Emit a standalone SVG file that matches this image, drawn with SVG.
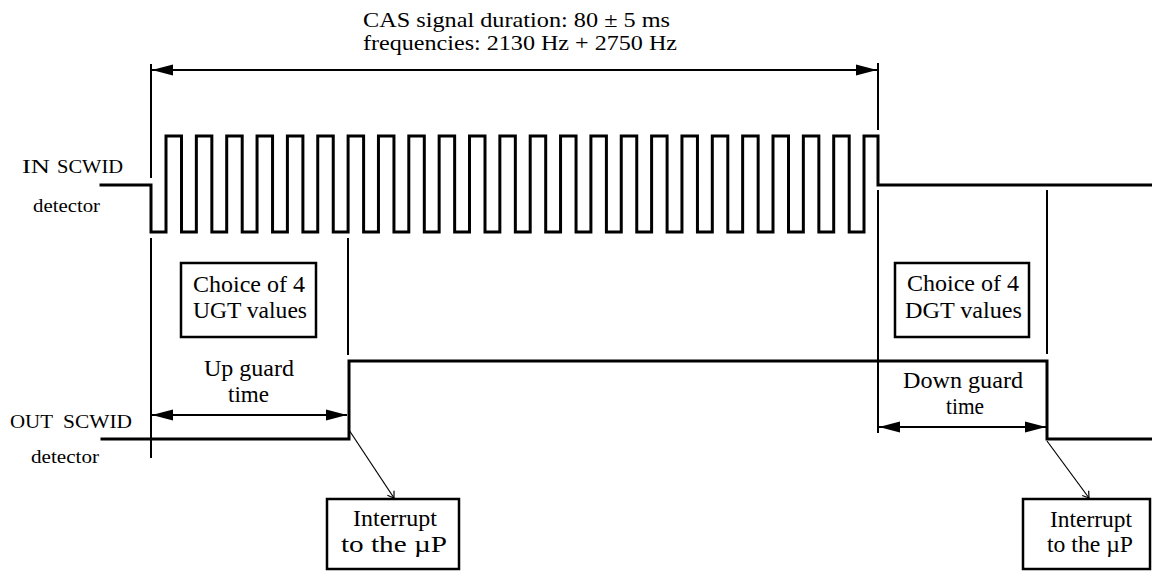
<svg xmlns="http://www.w3.org/2000/svg" width="1152" height="572" viewBox="0 0 1152 572">
<style>
text{font-family:"Liberation Serif","Times New Roman",serif;fill:#000}
.t19{font-size:19px}
.t21{font-size:21px}
.t23{font-size:24px}
.wave{fill:none;stroke:#000;stroke-width:3;stroke-linejoin:miter;stroke-linecap:square}
.ref{fill:none;stroke:#000;stroke-width:2}
.dim{fill:none;stroke:#000;stroke-width:2}
.box{fill:#fff;stroke:#000;stroke-width:2.5}
.ptr{fill:none;stroke:#000;stroke-width:1.2}
</style>
<defs>
<marker id="ah" markerWidth="22" markerHeight="12" refX="21" refY="6" orient="auto-start-reverse" markerUnits="userSpaceOnUse">
<path d="M0,0.5 L21,6 L0,11.5 Z" fill="#000"/>
</marker>
<marker id="open" markerWidth="10" markerHeight="10" refX="8" refY="5" orient="auto" markerUnits="userSpaceOnUse">
<path d="M2,1 L8,5 L2,9" fill="none" stroke="#000" stroke-width="1.2"/>
</marker>
</defs>

<g id="title">
<text class="t21" x="363" y="27" textLength="307" lengthAdjust="spacingAndGlyphs">CAS signal duration: 80 ± 5 ms</text>
<text class="t21" x="363" y="50" textLength="314" lengthAdjust="spacingAndGlyphs">frequencies: 2130 Hz + 2750 Hz</text>
</g>

<g id="in-label">
<text class="t19" x="22" y="173" textLength="28" lengthAdjust="spacingAndGlyphs">IN</text>
<text class="t19" x="57" y="173" textLength="66" lengthAdjust="spacingAndGlyphs">SCWID</text>
<text class="t19" x="33" y="212" textLength="67" lengthAdjust="spacingAndGlyphs">detector</text>
</g>
<g id="out-label">
<text class="t19" x="10" y="428" textLength="43" lengthAdjust="spacingAndGlyphs">OUT</text>
<text class="t19" x="63" y="428" textLength="69" lengthAdjust="spacingAndGlyphs">SCWID</text>
<text class="t19" x="31" y="463" textLength="68" lengthAdjust="spacingAndGlyphs">detector</text>
</g>

<g id="reference-lines">
<line class="ref" x1="151" y1="64" x2="151" y2="178"/>
<line class="ref" x1="151" y1="238" x2="151" y2="458"/>
<line class="ref" x1="348" y1="238" x2="348" y2="355"/>
<line class="ref" x1="878" y1="63" x2="878" y2="130"/>
<line class="ref" x1="878" y1="190" x2="878" y2="433"/>
<line class="ref" x1="1047" y1="190" x2="1047" y2="354"/>
</g>

<g id="in-signal">
<path class="wave" d="M101,185 H151 V232 H166 V136 H181.5 V232 H196.35 V136 H211.85 V232 H226.7 V136 H242.2 V232 H257.05 V136 H272.55 V232 H287.4 V136 H302.9 V232 H317.75 V136 H333.25 V232 H348.1 V136 H363.6 V232 H378.45 V136 H393.95 V232 H408.8 V136 H424.3 V232 H439.15 V136 H454.65 V232 H469.5 V136 H485 V232 H499.85 V136 H515.35 V232 H530.2 V136 H545.7 V232 H560.55 V136 H576.05 V232 H590.9 V136 H606.4 V232 H621.25 V136 H636.75 V232 H651.6 V136 H667.1 V232 H681.95 V136 H697.45 V232 H712.3 V136 H727.8 V232 H742.65 V136 H758.15 V232 H773 V136 H788.5 V232 H803.35 V136 H818.85 V232 H833.7 V136 H849.2 V232 H864 V136 H878 V185 H1153"/>
</g>

<g id="out-signal">
<path class="wave" d="M102,439 H349 V361 H1047 V439 H1153"/>
</g>

<g id="ugt-box">
<rect class="box" x="181" y="263" width="135" height="74"/>
<text class="t23" x="193" y="292" textLength="112" lengthAdjust="spacingAndGlyphs">Choice of 4</text>
<text class="t23" x="193" y="318" textLength="114" lengthAdjust="spacingAndGlyphs">UGT values</text>
</g>

<g id="dgt-box">
<rect class="box" x="895" y="263" width="134" height="74"/>
<text class="t23" x="907" y="291" textLength="112" lengthAdjust="spacingAndGlyphs">Choice of 4</text>
<text class="t23" x="905" y="318" textLength="117" lengthAdjust="spacingAndGlyphs">DGT values</text>
</g>

<g id="up-guard-label">
<text class="t23" x="204" y="376" textLength="90" lengthAdjust="spacingAndGlyphs">Up guard</text>
<text class="t23" x="228" y="402" textLength="41" lengthAdjust="spacingAndGlyphs">time</text>
</g>

<g id="down-guard-label">
<text class="t23" x="903" y="388" textLength="120" lengthAdjust="spacingAndGlyphs">Down guard</text>
<text class="t23" x="946" y="414" textLength="38" lengthAdjust="spacingAndGlyphs">time</text>
</g>

<g id="interrupt-left">
<rect class="box" x="327" y="499" width="132" height="70"/>
<text class="t23" x="353" y="526" textLength="84" lengthAdjust="spacingAndGlyphs">Interrupt</text>
<text class="t23" x="341" y="552" textLength="106" lengthAdjust="spacingAndGlyphs">to the µP</text>
</g>

<g id="interrupt-right">
<rect class="box" x="1023" y="499" width="127" height="70"/>
<text class="t23" x="1050" y="527" textLength="82" lengthAdjust="spacingAndGlyphs">Interrupt</text>
<text class="t23" x="1047" y="552" textLength="86" lengthAdjust="spacingAndGlyphs">to the µP</text>
</g>

<g id="connectors">
<line class="dim" x1="152" y1="70" x2="877" y2="70" marker-start="url(#ah)" marker-end="url(#ah)"/>
<line class="dim" x1="152" y1="415" x2="347" y2="415" marker-start="url(#ah)" marker-end="url(#ah)"/>
<line class="dim" x1="879" y1="427" x2="1046" y2="427" marker-start="url(#ah)" marker-end="url(#ah)"/>
<line class="ptr" x1="349" y1="430" x2="394" y2="498" marker-end="url(#open)"/>
<line class="ptr" x1="1047" y1="441" x2="1089" y2="498" marker-end="url(#open)"/>
</g>
</svg>
